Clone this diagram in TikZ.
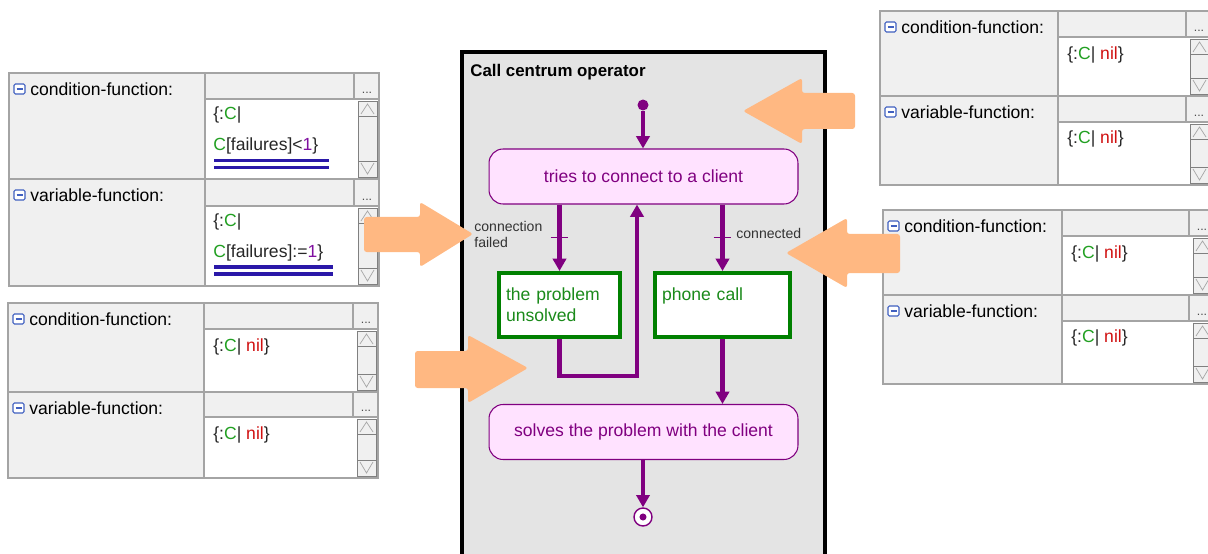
\documentclass[tikz,border=0pt]{standalone}
\usepackage{fontspec}
\setmainfont{Liberation Sans}
\usetikzlibrary{arrows.meta}

\definecolor{panelgray}{HTML}{F0F0F0}
\definecolor{panelline}{HTML}{A4A4A4}
\definecolor{lanegray}{HTML}{E4E4E4}
\definecolor{flowpurple}{HTML}{800080}
\definecolor{actionpink}{HTML}{FFE2FF}
\definecolor{actgreen}{HTML}{008000}
\definecolor{textgreen}{HTML}{1A8A1A}
\definecolor{hintorange}{HTML}{FFB882}
\definecolor{codegreen}{HTML}{22A022}
\definecolor{codered}{HTML}{D01010}
\definecolor{codenum}{HTML}{8010A0}
\definecolor{linkblue}{HTML}{2A18A8}
\definecolor{iconblue}{HTML}{4060C0}

\newcommand{\codeC}{\textcolor{codegreen}{C}}
\newcommand{\codenil}{\textcolor{codered}{nil}}
\newcommand{\codenum}[1]{\textcolor{codenum}{#1}}

\tikzset{
  cellgray/.style={fill=panelgray, draw=panelline, line width=0.6pt},
  cellwhite/.style={fill=white, draw=panelline, line width=0.6pt},
  scrollbox/.style={fill=panelgray, draw=gray, line width=0.5pt},
  fieldlabel/.style={inner sep=0pt, font=\fontsize{10}{12}\selectfont},
  dotsmark/.style={inner sep=0pt, font=\fontsize{7}{8}\selectfont, text=black!70},
  valtext/.style={inner sep=0pt, font=\fontsize{10}{12}\selectfont, text=black!85},
  dblline/.style={draw=linkblue, line width=2.1pt},
  lanebox/.style={fill=lanegray, draw=black, line width=2pt},
  lanetitle/.style={inner sep=0pt, font=\fontsize{9.6}{11.5}\selectfont\bfseries},
  action/.style={draw=flowpurple, line width=0.6pt, fill=actionpink, rounded corners=8pt,
    minimum width=6.18cm, minimum height=1.1cm, text=flowpurple,
    font=\fontsize{10}{12}\selectfont},
  activity/.style={draw=actgreen, line width=2.3pt, fill=white, inner xsep=4pt,
    minimum height=1.28cm, align=left, text=textgreen, font=\fontsize{10}{12}\selectfont},
  startdot/.style={circle, fill=flowpurple, minimum size=0.22cm, inner sep=0pt},
  finalmark/.style={circle, draw=flowpurple, fill=white, line width=0.8pt,
    minimum size=0.36cm, inner sep=0pt,
    path picture={\fill[flowpurple] (path picture bounding box.center) circle (2pt);}},
  flow/.style={draw=flowpurple, line width=2.3pt, -{Triangle[length=7pt,width=7.5pt]}},
  guardline/.style={draw=flowpurple, line width=0.8pt},
  guardlabel/.style={inner sep=0pt, align=left, text=black!80,
    font=\fontsize{8}{9.6}\selectfont},
  hintarrow/.style={fill=hintorange, rounded corners=1.5pt}
}

% one field of a property panel:
% #1 name, #2 left, #3 value column, #4 dots column, #5 right,
% #6 top, #7 header bottom, #8 bottom, #9 label
\newcommand{\propfield}[9]{%
  \filldraw[cellgray] (#2,#6) rectangle (#3,#8);
  \filldraw[cellgray] (#3,#6) rectangle (#4,#7);
  \filldraw[cellgray] (#4,#6) rectangle (#5,#7);
  \filldraw[cellwhite] (#3,#7) rectangle (#5,#8);
  % scroll bar
  \filldraw[scrollbox] (#4+4,#7+2) rectangle (#4+23,#8-2);
  \draw[gray, line width=0.5pt] (#4+4,#7+17) -- (#4+23,#7+17)
    (#4+4,#8-18) -- (#4+23,#8-18);
  \draw[gray!70, line width=0.4pt] (#4+7,#7+15) -- (#4+13.5,#7+5) -- (#4+20,#7+15)
    (#4+7,#8-16) -- (#4+13.5,#8-5) -- (#4+20,#8-16);
  % collapse icon
  \filldraw[draw=iconblue, fill=white, rounded corners=0.8pt, line width=0.6pt]
    (#2+5,#6+11) rectangle (#2+16,#6+21);
  \draw[iconblue, line width=0.7pt] (#2+7.5,#6+16) -- (#2+13.5,#6+16);
  \node[fieldlabel, anchor=west] (#1-label) at (#2+21,#6+16) {#9};
  \node[dotsmark] (#1-dots) at (#4+13,#7-6) {...};
}

\begin{document}
\begin{tikzpicture}[x=0.02cm, y=-0.02cm]
  \useasboundingbox (0,0) rectangle (1208,554);
  \clip (0,0) rectangle (1208,554);

  % panel left top
  \propfield{pa-cond}{9}{205}{354}{379}{73}{99}{179}{condition-function:}
  \propfield{pa-var}{9}{205}{354}{379}{179}{206}{286}{variable-function:}
  \node[valtext, anchor=west] (pa-cond1) at (213,115) {\{:\codeC|};
  \node[valtext, anchor=west] (pa-cond2) at (213,146) {\codeC[failures]<\codenum{1}\}};
  \draw[dblline] (214,160.5) -- (329,160.5);
  \draw[dblline] (214,167.5) -- (329,167.5);
  \node[valtext, anchor=west] (pa-var1) at (213,222) {\{:\codeC|};
  \node[valtext, anchor=west] (pa-var2) at (213,253) {\codeC[failures]:=\codenum{1}\}};
  \draw[dblline] (214,267) -- (333,267);
  \draw[dblline] (214,274) -- (333,274);

  % panel left bottom
  \propfield{pb-cond}{8}{204}{353}{378}{303}{329}{392}{condition-function:}
  \propfield{pb-var}{8}{204}{353}{378}{392}{417}{478}{variable-function:}
  \node[valtext, anchor=west] (pb-cond1) at (213,347) {\{:\codeC| \codenil\}};
  \node[valtext, anchor=west] (pb-var1) at (213,435) {\{:\codeC| \codenil\}};

  % panel right top
  \propfield{pc-cond}{880}{1058}{1186}{1214}{11}{37}{96}{condition-function:}
  \propfield{pc-var}{880}{1058}{1186}{1214}{96}{122}{185}{variable-function:}
  \node[valtext, anchor=west] (pc-cond1) at (1067,55) {\{:\codeC| \codenil\}};
  \node[valtext, anchor=west] (pc-var1) at (1067,139) {\{:\codeC| \codenil\}};

  % panel right middle
  \propfield{pd-cond}{883}{1062}{1189}{1217}{210}{236}{295}{condition-function:}
  \propfield{pd-var}{883}{1062}{1189}{1217}{295}{321}{384}{variable-function:}
  \node[valtext, anchor=west] (pd-cond1) at (1071,254) {\{:\codeC| \codenil\}};
  \node[valtext, anchor=west] (pd-var1) at (1071,338) {\{:\codeC| \codenil\}};

  % swimlane
  \draw[lanebox] (462,52) rectangle (825,570);
  \node[lanetitle, anchor=west] (title) at (470,72) {Call centrum operator};

  % activity flow
  \node[startdot] (start) at (643,105) {};
  \node[action] (try) at (643.5,176.5) {tries to connect to a client};
  \node[activity, text width=2.42cm-8pt] (unsolved) at (559.5,305) {the problem\\unsolved};
  \node[activity, text width=2.7cm-8pt] (phone) at (722.5,305) {phone call\\~};
  \node[action] (solve) at (643.5,432) {solves the problem with the client};
  \node[finalmark] (finish) at (643,517) {};
  \coordinate (loopup) at (637,376);

  \draw[flow] (start) -- (start |- try.north);
  \draw[flow] (unsolved.north |- try.south) -- coordinate[pos=0.5] (failtick) (unsolved.north);
  \draw[guardline] ([xshift=-5pt]failtick) -- ([xshift=5pt]failtick);
  \node[guardlabel, anchor=west] (failtext) at (474,234.5) {connection\\failed};
  \draw[flow] (phone.north |- try.south) -- coordinate[pos=0.5] (conntick) (phone.north);
  \draw[guardline] ([xshift=-5pt]conntick) -- ([xshift=5pt]conntick);
  \node[guardlabel, anchor=west] (conntext) at (736,233) {connected};
  \draw[flow] (unsolved.south) |- (loopup) -- (loopup |- try.south);
  \draw[flow] (phone.south) -- (phone.south |- solve.north);
  \draw[flow] (solve.south -| finish) -- (finish.north);

  % hint arrows
  \fill[hintarrow] (364,217) -- (420,217) -- (420,202) -- (473,234) -- (420,267)
    -- (420,252) -- (364,252) -- cycle;
  \fill[hintarrow] (415,351) -- (468,351) -- (468,335) -- (528,368) -- (468,403)
    -- (468,388) -- (415,388) -- cycle;
  \fill[hintarrow] (855,93) -- (802,93) -- (802,78) -- (743,111) -- (802,144)
    -- (802,129) -- (855,129) -- cycle;
  \fill[hintarrow] (900,234) -- (847,234) -- (847,218) -- (786,253) -- (847,288)
    -- (847,273) -- (900,273) -- cycle;
\end{tikzpicture}
\end{document}
